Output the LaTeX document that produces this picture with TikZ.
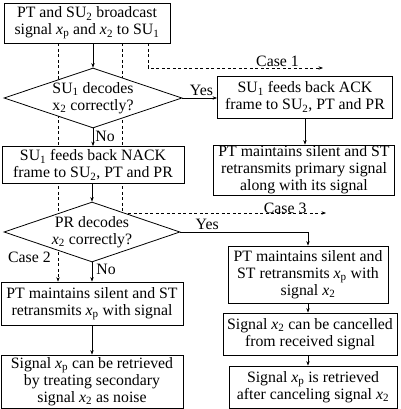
\documentclass[tikz,border=0pt]{standalone}
\usepackage{fontspec}
\setmainfont{Liberation Serif}
\usetikzlibrary{arrows.meta}
\usetikzlibrary{shapes.geometric}
\usetikzlibrary{backgrounds}

\newcommand{\sig}[1]{\textit{x}\textsubscript{#1}}

\begin{document}
\begin{tikzpicture}[x=1pt, y=-1pt, >={Stealth[length=4.5pt,width=3.4pt]},
 font=\fontsize{15.8}{17}\selectfont,
 box/.style={draw, fill=white, align=center, inner sep=0pt, line width=0.8pt},
 decision/.style={diamond, draw, fill=white, inner sep=0pt, line width=0.8pt,
   minimum width=178pt, minimum height=60pt},
 case line/.style={dash pattern=on 3pt off 2.5pt, line width=0.6pt},
 flow/.style={->, line width=0.7pt}]

    \useasboundingbox (0,0) rectangle (400,409);

    \node[box, minimum width=166pt, minimum height=40pt] (start) at (87,23)
        {PT and SU\textsubscript{2} broadcast\\signal \sig{p} and \sig{2} to SU\textsubscript{1}};
    \node[decision, label={[align=center]center:{SU\textsubscript{1} decodes\\x\textsubscript{2} correctly?}}] (su) at (93,98) {};
    \node[box, minimum width=175pt, minimum height=42pt] (ack) at (305,97)
        {SU\textsubscript{1} feeds back ACK\\frame to SU\textsubscript{2}, PT and PR};
    \node[box, minimum width=181pt, minimum height=50pt] (silent) at (304,170)
        {PT maintains silent and ST\\retransmits primary signal\\along with its signal};
    \node[box, minimum width=182pt, minimum height=37pt] (nack) at (93,165)
        {SU\textsubscript{1} feeds back NACK\\frame to SU\textsubscript{2}, PT and PR};
    \node[decision, minimum width=176pt, label={[align=center]center:{PR decodes\\\sig{2} correctly?}}] (pr) at (92,232) {};
    \node[box, minimum width=160pt, minimum height=57pt] (retx) at (308,274.5)
        {PT maintains silent and\\ST retransmits \sig{p} with\\signal \sig{2}};
    \node[box, minimum width=174pt, minimum height=42pt] (cancel) at (310,334)
        {Signal \sig{2} can be cancelled\\from received signal};
    \node[box, minimum width=168pt, minimum height=42pt] (got) at (313,387)
        {Signal \sig{p} is retrieved\\after canceling signal \sig{2}};
    \node[box, minimum width=182pt, minimum height=43pt] (retxp) at (92,303.5)
        {PT maintains silent and ST\\retransmits \sig{p} with signal};
    \node[box, minimum width=182pt, minimum height=53pt] (noise) at (92,381.5)
        {Signal \sig{p} can be retrieved\\by treating secondary\\signal \sig{2} as noise};

    \coordinate (case1) at (148,0);
    \coordinate (case2) at (58,0);
    \coordinate (case3) at (122,0);
    \coordinate (case1end) at (323,68);
    \coordinate (case3end) at (326,213);

    \begin{scope}[on background layer]
    \draw[case line, ->] (start.south -| case1) |- node[pos=0.87, above=1.5pt, inner sep=0pt]{Case 1} (case1end);
    \draw[case line, ->] (start.south -| case2) -- node[pos=0.9, left=7pt, inner sep=0pt]{Case 2} (retxp.north -| case2);
    \draw[case line, ->] (start.south -| case3) |- node[pos=0.9, above=-1pt, inner sep=0pt]{Case 3} (case3end);
    \end{scope}

    \draw[flow] (su.north |- start.south) -- (su.north);
    \draw[flow] (su.east) -- node[above, pos=0.55, inner sep=2pt]{Yes} (su.east -| ack.west);
    \draw[flow] (ack.south) -- (ack.south |- silent.north);
    \draw[flow] (su.south) -- node[right, pos=0.45, inner sep=2pt]{No} (su.south |- nack.north);
    \draw[flow] (nack.south -| pr.north) -- (pr.north);
    \draw[flow] (pr.east) -| node[above, pos=0.105, inner sep=2pt]{Yes} (retx.north);
    \draw[flow] (pr.south) -- node[right, pos=0.35, inner sep=4pt]{No} (retxp.north -| pr.south);
    \draw[flow] (retx.south) -- (retx.south |- cancel.north);
    \draw[flow] (retx.south |- cancel.south) -- (retx.south |- got.north);
    \draw[flow] (retxp.south) -- (noise.north);

\end{tikzpicture}
\end{document}
